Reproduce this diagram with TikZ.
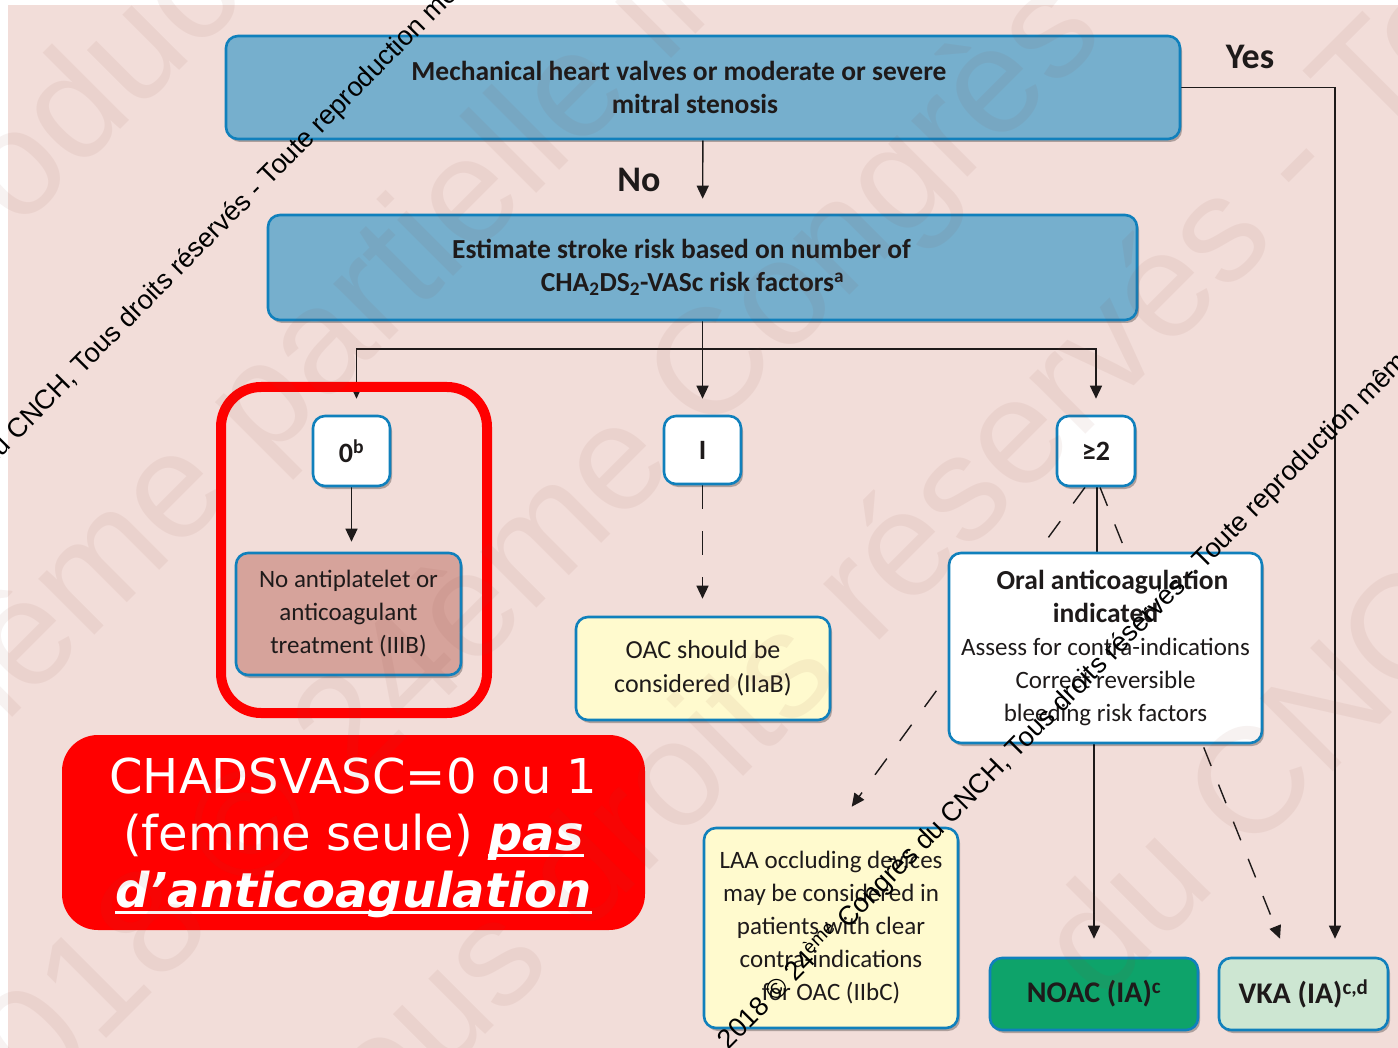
\documentclass[tikz,border=0pt]{standalone}
\usepackage{fontspec}
\setmainfont{Carlito}
\newfontfamily\wmfont{Liberation Sans}
\newfontfamily\callfont{DejaVu Sans}
\usetikzlibrary{arrows.meta,shadows,calc}
\pgfdeclarelayer{background}
\pgfdeclarelayer{edges}
\pgfdeclarelayer{front}
\pgfsetlayers{background,edges,main,front}

\definecolor{pinkbg}{RGB}{242,221,217}
\definecolor{boxblue}{RGB}{118,175,205}
\definecolor{edgeblue}{RGB}{16,128,188}
\definecolor{rose}{RGB}{214,163,155}
\definecolor{cream}{RGB}{255,250,206}
\definecolor{noacgreen}{RGB}{14,163,106}
\definecolor{paleg}{RGB}{205,230,210}
\definecolor{ink}{RGB}{30,26,26}
\definecolor{wmtint}{RGB}{142,71,57}

% thick underline for the callout
\newcommand\thickul[1]{\setbox0\hbox{#1}\rlap{\rule[-6pt]{\wd0}{3.2pt}}\box0}

\tikzset{
  box/.style={draw=edgeblue, line width=2.6pt, rounded corners=12pt, align=center,
    inner sep=0pt, text=ink,
    drop shadow={shadow xshift=2pt, shadow yshift=-3pt, opacity=0.28, fill=black}},
  body/.style={font=\fontsize{25}{33}\selectfont},
  bodyb/.style={font=\bfseries\fontsize{27.5}{33}\selectfont},
  result/.style={box, font=\bfseries\fontsize{30}{32}\selectfont},
  score/.style={box, fill=white, font=\bfseries\fontsize{28}{30}\selectfont},
  lbl/.style={text=ink, font=\bfseries\fontsize{36}{38}\selectfont, inner sep=0pt},
  flow/.style={draw=ink, line width=1.4pt},
  tip/.style={-{Triangle[width=12pt,length=13pt]}},
  dashpat/.style={dash pattern=on 24pt off 22pt},
  callout/.style={fill=red, rounded corners=36pt, text=white, align=center, inner sep=0pt,
    font=\callfont\fontsize{48}{57}\selectfont},
  wmsmall/.style={text=black, font=\wmfont\fontsize{27}{27}\selectfont, rotate=45.3,
    anchor=base west, inner sep=0pt},
  wmbig/.style={text=wmtint, text opacity=0.07, font=\wmfont\fontsize{150}{150}\selectfont,
    rotate=45, anchor=base west, inner sep=0pt},
}

\begin{document}
\begin{tikzpicture}[x=1pt,y=-1pt]
\useasboundingbox (0,0) rectangle (1398,1048);
\begin{pgfonlayer}{background}
  \fill[white] (0,0) rectangle (1398,1048);
  \fill[pinkbg] (8,5) rectangle (1398,1048);
\end{pgfonlayer}

% decision boxes
\node[box, fill=boxblue, bodyb, minimum width=954pt, minimum height=103pt] (valve) at (703,87.5)
  {Mechanical heart valves or moderate or severe\hspace*{48pt}\\mitral stenosis\hspace*{16pt}};
\node[box, fill=boxblue, bodyb, minimum width=869pt, minimum height=105pt] (est) at (702.5,267.5)
  {Estimate stroke risk based on number of\hspace*{42pt}\\CHA\textsubscript{2}DS\textsubscript{2}-VASc risk factors\textsuperscript{a}\hspace*{20pt}};

% score boxes
\node[score, minimum width=77pt, minimum height=70pt] (zero) at (351.5,451) {0\textsuperscript{b}};
\node[score, minimum width=77pt, minimum height=68pt] (one) at (702.5,450) {I};
\node[score, minimum width=78pt, minimum height=70pt] (two) at (1096,451) {≥2};

% outcome boxes
\node[box, fill=rose, body, minimum width=225pt, minimum height=122pt] (noanti) at (348.5,614)
  {No antiplatelet or\\anticoagulant\\treatment (IIIB)};
\node[box, fill=cream, body, font=\fontsize{26}{34}\selectfont, minimum width=254pt, minimum height=103pt] (oac) at (703,668.5)
  {OAC should be\\considered (IIaB)};
\node[box, fill=white, body, minimum width=313pt, minimum height=190pt] (oral) at (1105.5,648)
  {\textbf{\fontsize{27.5}{33}\selectfont Oral anticoagulation}\hspace*{-14pt}\\\textbf{\fontsize{27.5}{33}\selectfont indicated}\\Assess for contra-indications\\Correct reversible\\bleeding risk factors};
\node[box, fill=cream, body, minimum width=254pt, minimum height=200pt] (laa) at (831,928)
  {LAA occluding devices\\may be considered in\\patients with clear\\contra-indications\\for OAC (IIbC)};
\node[result, fill=noacgreen, minimum width=208pt, minimum height=72pt] (noac) at (1094,994)
  {NOAC (IA)\textsuperscript{c}};
\node[result, fill=paleg, minimum width=169pt, minimum height=72pt] (vka) at (1303.5,994)
  {VKA (IA)\textsuperscript{c,d}};

% branch labels
\node[lbl] (yes) at (1250,57) {Yes};
\node[lbl] (no) at (639,180) {No};

% highlight frame and note
\draw[red, line width=10pt, rounded corners=40pt] (221,387) rectangle (487,713);
\node[callout, minimum width=583pt, minimum height=195pt] (note) at (353.5,832.5)
  {\rule{0pt}{47pt}CHADSVASC=0 ou 1\\(femme seule) \thickul{\bfseries\itshape pas}\\\thickul{\bfseries\itshape d’anticoagulation}};

% connectors
\coordinate (hub) at (702.5,349);
\coordinate (laatip) at ($(laa.north west)+(149,-20)$);
\coordinate (vkatip) at ($(vka.north)+(-23.5,-18)$);
\begin{pgfonlayer}{edges}
  \draw[flow, tip, shorten >=15pt] (valve) -- (est);
  \draw[flow, tip, shorten >=18pt] (valve.east) -| ([xshift=31.5pt]vka.north);
  \draw[flow, tip, shorten >=16pt] (est) -- (one);
  \draw[flow, tip, shorten >=16pt] (hub) -| ([xshift=5pt]zero.north);
  \draw[flow, tip, shorten >=16pt] (hub) -| (two.north);
  \draw[flow, tip, shorten >=10pt] (zero.south) -- (zero.south |- noanti.north);
  \draw[flow, dashpat, tip, shorten >=17pt] (one.south) -- (one.south |- oac.north);
  \draw[flow] ([xshift=1pt]two.south) -- ([xshift=1pt]two.south |- oral.north);
  \draw[flow, tip, shorten >=18pt] (noac.north |- oral.south) -- (noac.north);
  \draw[flow, dash pattern=on 20pt off 22pt, tip] ([xshift=-11pt]two.south) -- (laatip);
  \draw[flow, dash pattern=on 20pt off 20pt, tip] ([xshift=4pt]two.south) -- (vkatip);
\end{pgfonlayer}

% copyright overlay
\begin{pgfonlayer}{front}
  \begin{scope}
    \clip (0,0) rectangle (1398,1048);
    \node[wmbig] (wz) at (-170,420) {reproduction même partielle interdite};
    \node[wmbig] (wa) at (-60,790) {même partielle interdite};
    \node[wmbig] (wb) at (-20,1165) {2018 © 24ème Congrès du CNCH};
    \node[wmbig] (wc) at (330,1190) {Tous droits réservés - Toute};
    \node[wmbig] (wd) at (1100,1005) {du CNCH};
    \node[wmsmall] (wm1) at (-9,468) {\llap{2018 © 24\textsuperscript{ème} Congrès }du CNCH, Tous droits réservés - Toute reproduction même partielle interdite};
    \node[wmsmall] (wm2) at (925,852) {\llap{2018 © 24\textsuperscript{ème} Congrès }du CNCH, Tous droits réservés - Toute reproduction même partielle interdite};
  \end{scope}
\end{pgfonlayer}
\end{tikzpicture}
\end{document}
